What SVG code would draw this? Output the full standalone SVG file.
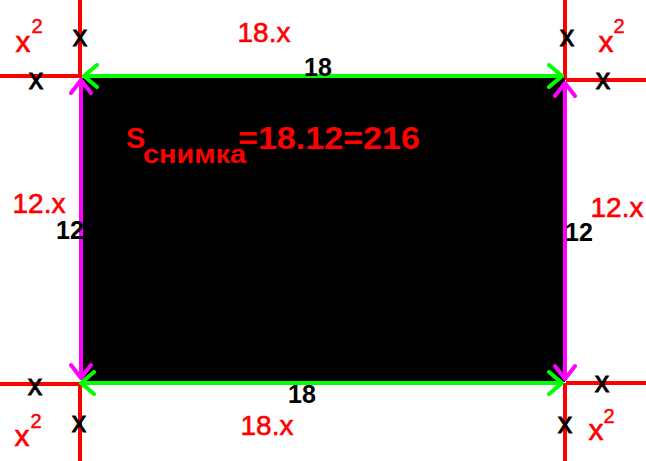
<svg xmlns="http://www.w3.org/2000/svg" width="646" height="461" viewBox="0 0 646 461">
<style>
.red{stroke:#ff0000;stroke-width:4;fill:none}
.g{stroke:#00ff00;stroke-width:4;fill:none}
.m{stroke:#ff00ff;stroke-width:4;fill:none}
text{font-family:"Liberation Sans",Arial,sans-serif}
.rl{fill:#ff0000;stroke:#ff0000;stroke-width:0.6;font-size:28px}
.bl{fill:#000;font-size:25px;font-weight:bold}
.bx{fill:#000;stroke:#000;stroke-width:0.8;font-size:29px}
.rx{fill:#ff0000;stroke:#ff0000;stroke-width:0.6;font-size:30px}
.sup{fill:#ff0000;stroke:#ff0000;stroke-width:0.5;font-size:20px}
.f{fill:#ff0000;font-weight:bold}
</style>
<defs>
<marker id="ag" viewBox="-16 -13 18 26" refX="0" refY="0" markerWidth="18" markerHeight="26" markerUnits="userSpaceOnUse" orient="auto-start-reverse">
<path d="M-13,-11 L0,0 L-13,11" stroke="#00ff00" stroke-width="4" fill="none" stroke-linecap="round"/>
</marker>
<marker id="am" viewBox="-16 -13 18 26" refX="0" refY="0" markerWidth="18" markerHeight="26" markerUnits="userSpaceOnUse" orient="auto-start-reverse">
<path d="M-13,-10 L0,0 L-13,10" stroke="#ff00ff" stroke-width="4" fill="none" stroke-linecap="round"/>
</marker>
</defs>
<rect width="646" height="461" fill="#fff"/>
<g id="guides">
<line class="red" x1="80" y1="0" x2="80" y2="78"/>
<line class="red" x1="80" y1="382" x2="80" y2="461"/>
<line class="red" x1="565" y1="0" x2="565" y2="80"/>
<line class="red" x1="565" y1="383" x2="565" y2="461"/>
<line class="red" x1="0" y1="76" x2="80" y2="76"/>
<line class="red" x1="566" y1="80" x2="646" y2="80"/>
<line class="red" x1="0" y1="384" x2="80" y2="384"/>
<line class="red" x1="566" y1="383" x2="646" y2="383"/>
</g>
<g id="photo">
<rect x="82" y="78" width="483" height="304" fill="#000"/>
</g>
<g id="connectors">
<line class="g" x1="84" y1="76" x2="562" y2="76" marker-start="url(#ag)" marker-end="url(#ag)"/>
<line class="g" x1="81" y1="383" x2="562" y2="383" marker-start="url(#ag)" marker-end="url(#ag)"/>
<line class="m" x1="81" y1="80" x2="81" y2="378" marker-start="url(#am)" marker-end="url(#am)"/>
<line class="m" x1="565" y1="83" x2="565" y2="379" marker-start="url(#am)" marker-end="url(#am)"/>
</g>
<g id="labels">
<text class="rl" x="264" y="42" text-anchor="middle">18.x</text>
<text class="rl" x="267" y="435" text-anchor="middle">18.x</text>
<text class="rl" x="39" y="213" text-anchor="middle">12.x</text>
<text class="rl" x="617" y="217" text-anchor="middle">12.x</text>
<text class="bl" x="318" y="76" text-anchor="middle">18</text>
<text class="bl" x="302" y="403" text-anchor="middle">18</text>
<text class="bl" x="70" y="239" text-anchor="middle">12</text>
<text class="bl" x="579" y="241" text-anchor="middle">12</text>
<text class="bx" x="80" y="46" text-anchor="middle">x</text>
<text class="bx" x="36" y="89" text-anchor="middle">x</text>
<text class="bx" x="567" y="46" text-anchor="middle">x</text>
<text class="bx" x="603" y="89" text-anchor="middle">x</text>
<text class="bx" x="35" y="395" text-anchor="middle">x</text>
<text class="bx" x="79" y="432" text-anchor="middle">x</text>
<text class="bx" x="602" y="392" text-anchor="middle">x</text>
<text class="bx" x="565" y="433" text-anchor="middle">x</text>
<text class="rx" x="23" y="52" text-anchor="middle">x</text>
<text class="sup" x="37" y="33" text-anchor="middle">2</text>
<text class="rx" x="606" y="52" text-anchor="middle">x</text>
<text class="sup" x="619" y="33" text-anchor="middle">2</text>
<text class="rx" x="22" y="446" text-anchor="middle">x</text>
<text class="sup" x="36" y="428" text-anchor="middle">2</text>
<text class="rx" x="596" y="440" text-anchor="middle">x</text>
<text class="sup" x="609" y="423" text-anchor="middle">2</text>
<text class="f" x="126" y="148" font-size="29">S</text>
<text class="f" x="143" y="163" font-size="26" textLength="103" lengthAdjust="spacingAndGlyphs">снимка</text>
<text class="f" x="238" y="149" font-size="32" textLength="182" lengthAdjust="spacingAndGlyphs">=18.12=216</text>
</g>
</svg>
